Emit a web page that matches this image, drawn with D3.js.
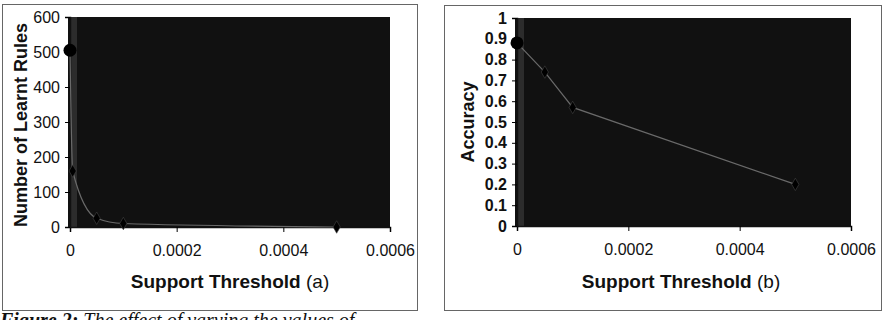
<!DOCTYPE html>
<html>
<head>
<meta charset="utf-8">
<script src="https://cdn.jsdelivr.net/npm/d3@7"></script>
<style>
  body { margin: 0; background: #fff; }
  svg { display: block; font-family: Arial, "Liberation Sans", sans-serif; }
  .tick text { fill: #111; }
</style>
</head>
<body>
<div id="chart"></div>
<script>
var svgWidth = 888;
var svgHeight = 320;

// data
var thresholdsA = [0, 0.000005, 0.00005, 0.0001, 0.0005];
var rulesA = [505, 160, 25, 10, 0];
var thresholdsB = [0, 0.00005, 0.0001, 0.0005];
var accuracyB = [0.88, 0.74, 0.57, 0.2];
var xTicks = [0, 0.0002, 0.0004, 0.0006];
var yTicksA = [0, 100, 200, 300, 400, 500, 600];
var yTicksB = [0, 0.1, 0.2, 0.3, 0.4, 0.5, 0.6, 0.7, 0.8, 0.9, 1];

var svg = d3.select("#chart")
  .append("svg")
  .attr("width", svgWidth)
  .attr("height", svgHeight);

// panel frames
svg.append("rect")
  .attr("x", 2.5).attr("y", 4.5)
  .attr("width", 415).attr("height", 306)
  .attr("fill", "none").attr("stroke", "#666");
svg.append("rect")
  .attr("x", 444.5).attr("y", 5.5)
  .attr("width", 437).attr("height", 305)
  .attr("fill", "none").attr("stroke", "#666");

function drawPanel(opts) {
  var g = svg.append("g");
  var x = d3.scaleLinear().domain([0, 0.0006]).range([opts.left, opts.right]);
  var y = d3.scaleLinear().domain(opts.yDomain).range([opts.bottom, opts.top]);

  // dark plot area (grey in the original, darkened by the scan)
  g.append("rect")
    .attr("x", opts.left - 2)
    .attr("y", opts.top)
    .attr("width", opts.right - opts.left + 2)
    .attr("height", opts.bottom - opts.top)
    .attr("fill", "#111");
  g.append("rect")
    .attr("x", opts.left)
    .attr("y", opts.top)
    .attr("width", 7)
    .attr("height", opts.bottom - opts.top)
    .attr("fill", "#2c2c2c");

  var xAxis = g.append("g")
    .attr("transform", `translate(0, ${opts.bottom})`)
    .call(d3.axisBottom(x).tickValues(xTicks).tickSize(5).tickPadding(13)
      .tickFormat(d => d === 0 ? "0" : d.toFixed(4)));
  xAxis.select(".domain").attr("stroke", "#111").attr("stroke-width", 1.5);
  xAxis.selectAll("text").attr("font-size", 16);

  var yAxis = g.append("g")
    .attr("transform", `translate(${opts.left}, 0)`)
    .call(d3.axisLeft(y).tickValues(opts.yTicks).tickSize(5).tickPadding(5)
      .tickFormat(opts.yFormat));
  yAxis.select(".domain").attr("stroke", "#111").attr("stroke-width", 1.5);
  yAxis.selectAll("text").attr("font-size", 16).attr("font-weight", opts.yWeight);

  // series (faint on the dark background, as in the scan)
  var pts = opts.xs.map((d, i) => [d, opts.ys[i]]);
  g.append("path")
    .datum(pts)
    .attr("fill", "none")
    .attr("stroke", "#6a6a6a")
    .attr("stroke-width", 1.2)
    .attr("d", d3.line().x(d => x(d[0])).y(d => y(d[1])).curve(opts.curve));

  g.selectAll(".pt")
    .data(pts.slice(1))
    .enter()
    .append("path")
    .attr("class", "pt")
    .attr("transform", d => `translate(${x(d[0])}, ${y(d[1])})`)
    .attr("d", d3.symbol().type(d3.symbolDiamond).size(45))
    .attr("fill", "#000")
    .attr("stroke", "#444")
    .attr("stroke-width", 0.6);
  g.append("circle")
    .attr("cx", x(pts[0][0]))
    .attr("cy", y(pts[0][1]))
    .attr("r", 6.5)
    .attr("fill", "#000");

  // axis titles
  var xt = g.append("text")
    .attr("x", opts.titleX)
    .attr("y", 288)
    .attr("text-anchor", "middle")
    .attr("font-size", 19)
    .attr("fill", "#111");
  xt.append("tspan").attr("font-weight", "bold").text("Support Threshold");
  xt.append("tspan").text(" " + opts.tag);

  g.append("text")
    .attr("transform", `translate(${opts.yTitleX}, ${opts.yTitleY}) rotate(-90)`)
    .attr("text-anchor", "middle")
    .attr("font-size", 18)
    .attr("font-weight", "bold")
    .attr("fill", "#111")
    .text(opts.yTitle);
}

drawPanel({
  left: 70, right: 390, top: 17, bottom: 227,
  yDomain: [0, 600], yTicks: yTicksA, yFormat: d3.format("d"), yWeight: "normal",
  xs: thresholdsA, ys: rulesA, curve: d3.curveMonotoneX,
  titleX: 230, tag: "(a)",
  yTitle: "Number of Learnt Rules", yTitleX: 27, yTitleY: 125
});

drawPanel({
  left: 517, right: 851, top: 18, bottom: 226,
  yDomain: [0, 1], yTicks: yTicksB, yFormat: d => d === 0 || d === 1 ? String(d) : d.toFixed(1),
  yWeight: "bold",
  xs: thresholdsB, ys: accuracyB, curve: d3.curveLinear,
  titleX: 681, tag: "(b)",
  yTitle: "Accuracy", yTitleX: 474, yTitleY: 122
});

// caption, cut off at the bottom of the picture as in the reference
var cap = svg.append("text")
  .attr("x", 0)
  .attr("y", 327)
  .attr("font-family", "'Liberation Serif', 'Times New Roman', serif")
  .attr("font-style", "italic")
  .attr("font-size", 20)
  .attr("fill", "#111");
cap.append("tspan").attr("font-weight", "bold").text("Figure 2:");
cap.append("tspan").text(" The effect of varying the values of");
</script>
</body>
</html>
